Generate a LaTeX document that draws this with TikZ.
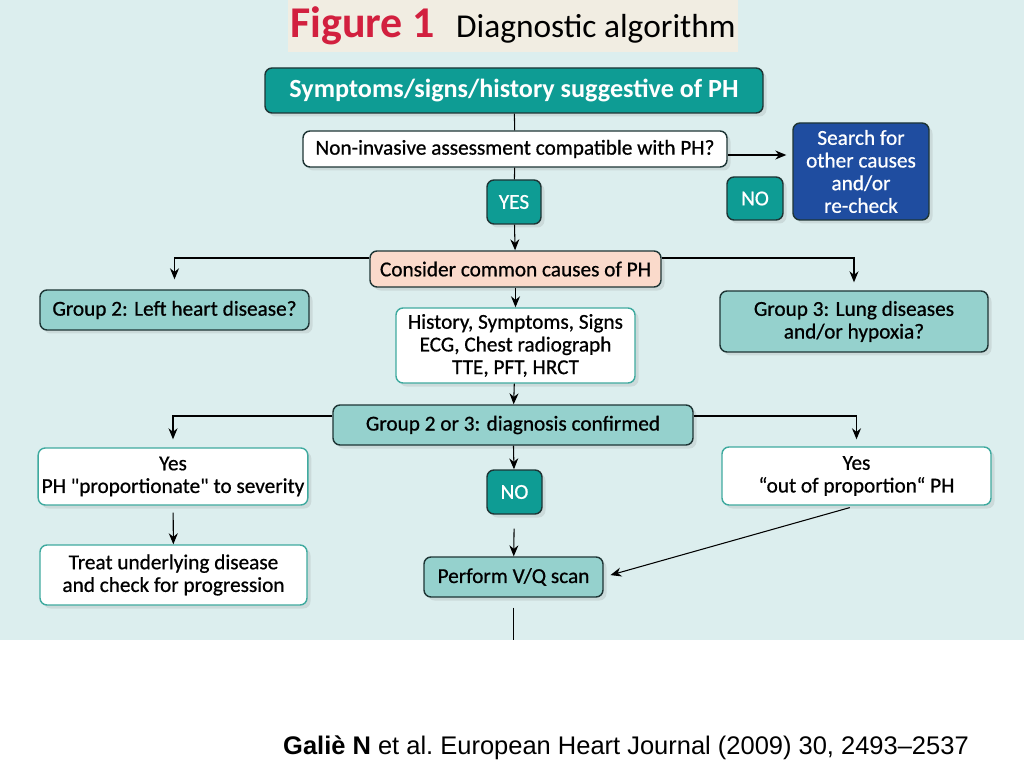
\documentclass[tikz,border=0pt]{standalone}
\usepackage{fontspec}
\setmainfont{Carlito}
\newfontfamily\medfont{Carlito}[FakeBold=0.7]
\newfontfamily\capfont{Liberation Sans}
\usetikzlibrary{positioning,arrows.meta,shadows,calc}
\definecolor{panelbg}{HTML}{DCEEEE}
\definecolor{titlebg}{HTML}{F1EDE2}
\definecolor{tealdark}{HTML}{0E9C94}
\definecolor{teallight}{HTML}{95D1CD}
\definecolor{tealedge}{HTML}{3FAA9F}
\definecolor{salmon}{HTML}{FADACB}
\definecolor{navy}{HTML}{1F4DA0}
\definecolor{crimson}{HTML}{D2203F}
\definecolor{edgedark}{HTML}{1E3535}
\tikzset{
  box/.style={rectangle, rounded corners=4pt, draw=edgedark, thick, align=center,
    inner sep=2pt, font=\medfont\fontsize{12.1}{12.9}\selectfont,
    drop shadow={shadow xshift=0.07cm, shadow yshift=-0.07cm, opacity=0.18}},
  darkbox/.style={box, fill=tealdark, text=white},
  lightbox/.style={box, fill=teallight},
  whitebox/.style={box, fill=white, draw=tealedge},
  flecha/.style={-{Stealth[length=2.2mm,width=1.8mm]}, semithick},
  linea/.style={semithick},
}
\begin{document}
\begin{tikzpicture}
  % background
  \useasboundingbox (0,0) rectangle (20.48,-15.36);
  \fill[panelbg] (0,0) rectangle (20.48,-12.80);
  \node[fill=titlebg, minimum width=9cm, minimum height=1.04cm, inner sep=0pt] (titulo) at (10.26,-0.52)
    {{\color{crimson}\bfseries\fontsize{25}{27}\selectfont Figure 1}\hspace{0.42cm}{\fontsize{19}{21}\selectfont Diagnostic algorithm}};
  % boxes
  \node[darkbox, minimum width=9.96cm, minimum height=0.90cm,
    font=\fontsize{14.9}{16}\selectfont\bfseries] (sintomas) at (10.28,-1.81)
    {Symptoms/signs/history suggestive of PH};
  \node[whitebox, draw=edgedark, minimum width=8.48cm, minimum height=0.72cm] (noinv) at (10.30,-2.98)
    {Non-invasive assessment compatible with PH?};
  \node[darkbox, minimum width=1.08cm, minimum height=0.88cm] (si1) at (10.28,-4.04) {YES};
  \node[darkbox, minimum width=1.12cm, minimum height=0.86cm] (no1) at (15.10,-3.97) {NO};
  \node[box, fill=navy, text=white, minimum width=2.72cm, minimum height=1.94cm] (buscar) at (17.22,-3.43)
    {Search for\\other causes\\and/or\\re-check};
  \node[box, fill=salmon, minimum width=5.82cm, minimum height=0.72cm] (causas) at (10.31,-5.38)
    {Consider common causes of PH};
  \node[lightbox, minimum width=5.38cm, minimum height=0.80cm] (grupo2) at (3.49,-6.20)
    {Group 2: Left heart disease?};
  \node[lightbox, minimum width=5.36cm, minimum height=1.22cm] (grupo3) at (17.08,-6.43)
    {Group 3: Lung diseases\\and/or hypoxia?};
  \node[whitebox, minimum width=4.78cm, minimum height=1.50cm] (historia) at (10.31,-6.91)
    {History, Symptoms, Signs\\ECG, Chest radiograph\\TTE, PFT, HRCT};
  \node[lightbox, minimum width=7.20cm, minimum height=0.80cm] (confirma) at (10.26,-8.50)
    {Group 2 or 3: diagnosis confirmed};
  \node[whitebox, minimum width=5.32cm, minimum height=1.14cm] (propor) at (3.46,-9.53)
    {Yes\\PH {\char"22}proportionate{\char"22} to severity};
  \node[whitebox, minimum width=5.38cm, minimum height=1.16cm] (fuera) at (17.13,-9.52)
    {Yes\\“out of proportion“ PH};
  \node[darkbox, minimum width=1.10cm, minimum height=0.88cm] (no2) at (10.29,-9.84) {NO};
  \node[lightbox, minimum width=3.58cm, minimum height=0.80cm] (vq) at (10.27,-11.54)
    {Perform V/Q scan};
  \node[whitebox, minimum width=5.34cm, minimum height=1.20cm] (tratar) at (3.47,-11.50)
    {Treat underlying disease\\and check for progression};
  \coordinate (corte) at (10.27,-12.80);
  % connectors
  \draw[linea] (sintomas) -- (noinv);
  \draw[linea] (noinv) -- (si1);
  \draw[flecha] (si1) -- (causas);
  \draw[flecha, shorten >=0.12cm] ([yshift=-0.12cm]noinv.east) -- ([yshift=-0.12cm]noinv.east -| buscar.west);
  \draw[flecha, shorten >=0.2cm] ([yshift=0.22cm]causas.west) -| (grupo2.north);
  \draw[flecha, shorten >=0.16cm] ([yshift=0.22cm]causas.east) -| (grupo3.north);
  \draw[flecha] (causas) -- (historia);
  \draw[flecha] (historia) -- (confirma);
  \draw[flecha, shorten >=0.16cm] ([yshift=0.18cm]confirma.west) -| (propor.north);
  \draw[flecha, shorten >=0.14cm] ([yshift=0.18cm]confirma.east) -| (fuera.north);
  \draw[flecha] (confirma) -- (no2);
  \draw[flecha, shorten <=0.28cm] (no2) -- (vq);
  \draw[flecha, shorten <=0.14cm] (propor) -- (tratar);
  \draw[flecha, shorten <=0.14cm, shorten >=0.14cm] (fuera.south) -- (vq.east);
  \draw[linea, shorten <=0.2cm] (vq) -- (corte);
  % reference
  \node[font=\capfont\fontsize{14.5}{16}\selectfont] (cita) at (12.52,-14.96)
    {\textbf{Galiè N} et al.\ European Heart Journal (2009) 30, 2493–2537};
\end{tikzpicture}
\end{document}
